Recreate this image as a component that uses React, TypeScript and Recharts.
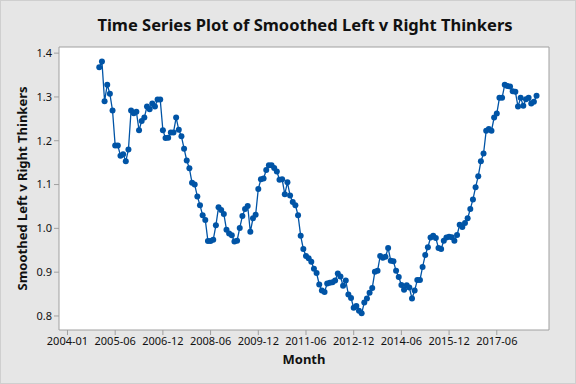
import { LineChart, Line, XAxis, YAxis, ReferenceArea } from 'recharts'

// smoothed series, one value per month starting 2005-01 (month index 13, 2004-01 = 1)
const firstMonthIndex = 13
const smoothedValues = [
  1.368, 1.381, 1.290, 1.328, 1.307, 1.269, 1.189, 1.189, 1.166, 1.169, 1.153, 1.180,
  1.269, 1.263, 1.266, 1.224, 1.245, 1.253, 1.278, 1.272, 1.285, 1.278, 1.294, 1.294,
  1.224, 1.206, 1.207, 1.219, 1.219, 1.253, 1.225, 1.210, 1.182, 1.155, 1.137, 1.104,
  1.100, 1.073, 1.053, 1.030, 1.019, 0.971, 0.971, 0.974, 1.007, 1.048, 1.042, 1.033,
  0.997, 0.988, 0.984, 0.970, 0.972, 1.001, 1.028, 1.044, 1.051, 0.992, 1.023, 1.031,
  1.090, 1.112, 1.114, 1.133, 1.144, 1.144, 1.138, 1.130, 1.111, 1.112, 1.078, 1.105,
  1.075, 1.060, 1.053, 1.030, 0.983, 0.953, 0.937, 0.932, 0.924, 0.908, 0.898, 0.872,
  0.858, 0.855, 0.874, 0.876, 0.877, 0.881, 0.897, 0.890, 0.869, 0.881, 0.849, 0.841,
  0.819, 0.823, 0.812, 0.806, 0.831, 0.840, 0.853, 0.864, 0.901, 0.903, 0.937, 0.933,
  0.935, 0.955, 0.926, 0.925, 0.903, 0.889, 0.871, 0.860, 0.870, 0.865, 0.840, 0.858,
  0.882, 0.882, 0.912, 0.939, 0.957, 0.979, 0.983, 0.978, 0.955, 0.953, 0.972, 0.979,
  0.981, 0.980, 0.972, 0.985, 1.008, 1.003, 1.012, 1.023, 1.044, 1.066, 1.094, 1.119,
  1.153, 1.171, 1.223, 1.227, 1.223, 1.253, 1.262, 1.298, 1.298, 1.328, 1.325, 1.324,
  1.313, 1.312, 1.278, 1.298, 1.280, 1.295, 1.298, 1.285, 1.289, 1.303,
]

const xTickIndex = [1, 19, 37, 55, 73, 91, 109, 127, 145, 163]
const xTickLabels = [
  '2004-01', '2005-06', '2006-12', '2008-06', '2009-12',
  '2011-06', '2012-12', '2014-06', '2015-12', '2017-06',
]
const yTicks = [0.8, 0.9, 1.0, 1.1, 1.2, 1.3, 1.4]

const xDomain: [number, number] = [-2.2, 182.7]
const yDomain: [number, number] = [0.768, 1.414]

const data = smoothedValues.map((v, i) => ({ month: firstMonthIndex + i, value: v }))

const FONT = '"Noto Sans", "Open Sans", sans-serif'
const BLUE = '#0054a6'
const FRAME = '#a0a0a0'

export default function App() {
  return (
    <div
      style={{
        position: 'absolute',
        left: 0,
        top: 0,
        width: 576,
        height: 384,
        background: '#e6e6e6',
        border: '1px solid #cfcfcf',
        boxSizing: 'border-box',
        fontFamily: FONT,
      }}
    >
      <div
        style={{
          position: 'absolute',
          left: 59,
          width: 490,
          top: 14,
          lineHeight: '20px',
          fontSize: 16.5,
          fontWeight: 700,
          textAlign: 'center',
          color: '#111',
        }}
      >
        Time Series Plot of Smoothed Left v Right Thinkers
      </div>
      <div style={{ position: 'absolute', left: -1, top: -1 }}>
        <LineChart width={576} height={384} data={data} margin={{ top: 47, right: 27, left: 0, bottom: 0 }}>
          <ReferenceArea
            x1={xDomain[0]}
            x2={xDomain[1]}
            y1={yDomain[0]}
            y2={yDomain[1]}
            fill="#ffffff"
            fillOpacity={1}
            stroke={FRAME}
            strokeWidth={1}
          />
          <XAxis
            dataKey="month"
            type="number"
            domain={xDomain}
            ticks={xTickIndex}
            interval={0}
            allowDataOverflow
            tickFormatter={(t: number) => xTickLabels[xTickIndex.indexOf(t)] ?? ''}
            height={54}
            axisLine={false}
            tickSize={5}
            tickMargin={2}
            tickLine={{ stroke: FRAME }}
            tick={{ fill: '#111', fontSize: 11, fontFamily: FONT }}
            label={{
              value: 'Month',
              position: 'insideBottom',
              offset: 20,
              style: { fill: '#111', fontSize: 13, fontWeight: 700, fontFamily: FONT },
            }}
          />
          <YAxis
            type="number"
            domain={yDomain}
            ticks={yTicks}
            interval={0}
            allowDataOverflow
            tickFormatter={(t: number) => t.toFixed(1)}
            width={59}
            axisLine={false}
            tickSize={5}
            tickMargin={2}
            tickLine={{ stroke: FRAME }}
            tick={{ fill: '#111', fontSize: 11, fontFamily: FONT }}
            label={{
              value: 'Smoothed Left v Right Thinkers',
              angle: -90,
              position: 'insideLeft',
              offset: 22,
              style: { textAnchor: 'middle', fill: '#111', fontSize: 13, fontWeight: 700, fontFamily: FONT },
            }}
          />
          <Line
            type="linear"
            dataKey="value"
            stroke={BLUE}
            strokeWidth={1.3}
            dot={{ r: 3, fill: BLUE, stroke: BLUE, strokeWidth: 0 }}
            activeDot={false}
            isAnimationActive={false}
          />
        </LineChart>
      </div>
    </div>
  )
}
